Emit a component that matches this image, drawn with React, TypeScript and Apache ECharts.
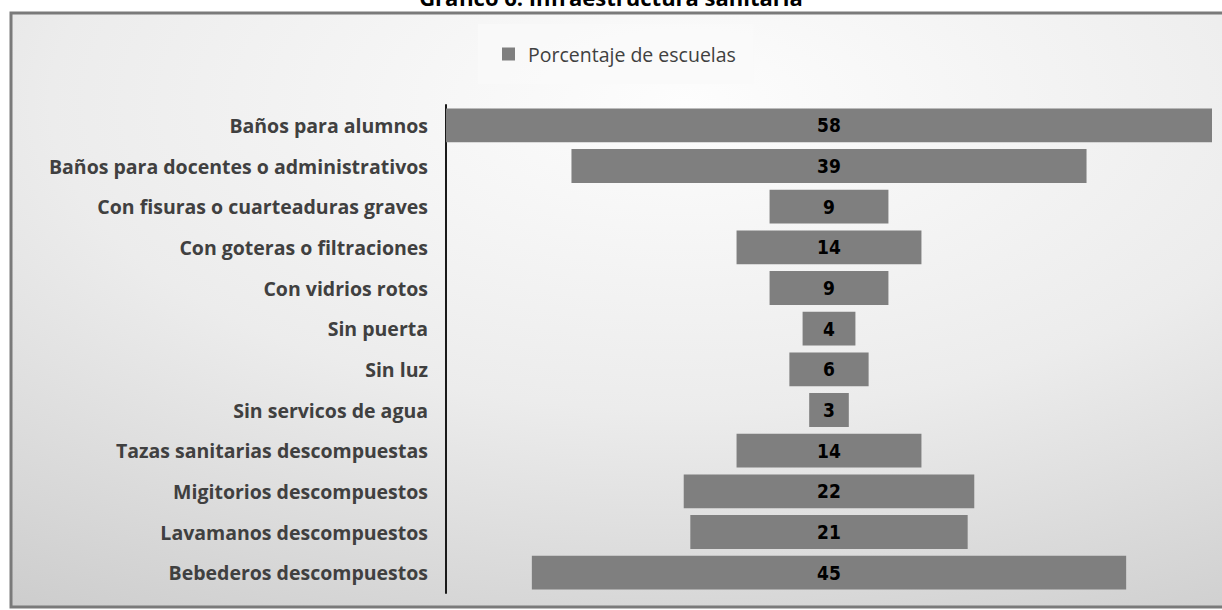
import React, { useEffect, useRef } from "react";
import * as echarts from "echarts";

const categories = [
  "Baños para alumnos",
  "Baños para docentes o administrativos",
  "Con fisuras o cuarteaduras graves",
  "Con goteras o filtraciones",
  "Con vidrios rotos",
  "Sin puerta",
  "Sin luz",
  "Sin servicos de agua",
  "Tazas sanitarias descompuestas",
  "Migitorios descompuestos",
  "Lavamanos descompuestos",
  "Bebederos descompuestos",
];
const values = [58, 39, 9, 14, 9, 4, 6, 3, 14, 22, 21, 45];
const seriesName = "Porcentaje de escuelas";
const titleText = "Gráfico 6. Infraestructura sanitaria";

export default function App() {
  const ref = useRef<HTMLDivElement>(null);
  useEffect(() => {
    if (!ref.current) return;
    const chart = echarts.init(ref.current, null, { renderer: "svg" });
    const maxV = Math.max(...values);
    const offsets = values.map((v) => (maxV - v) / 2);
    chart.setOption({
      animation: false,
      backgroundColor: "#ffffff",
      graphic: [
        {
          type: "rect",
          z: -10,
          shape: { x: 11, y: 13, width: 1225, height: 594 },
          style: {
            fill: {
              type: "radial",
              x: 0.55,
              y: 0.15,
              r: 1.15,
              colorStops: [
                { offset: 0, color: "#fdfdfd" },
                { offset: 0.45, color: "#ececec" },
                { offset: 1, color: "#c4c4c4" },
              ],
            },
            stroke: "#7a7a7a",
            lineWidth: 3,
          },
        },
        {
          type: "text",
          left: "center",
          top: -14,
          style: {
            text: titleText,
            font: "bold 22px 'Open Sans', sans-serif",
            fill: "#000000",
          },
        },
      ],
      legend: {
        data: [seriesName],
        left: 478,
        top: 24,
        padding: [20, 18, 20, 24],
        backgroundColor: "rgba(250,250,250,0.75)",
        itemWidth: 13,
        itemHeight: 13,
        icon: "rect",
        textStyle: {
          fontFamily: "'Open Sans', sans-serif",
          fontSize: 19.5,
          color: "#404040",
          padding: [0, 0, 0, 8],
        },
      },
      grid: { left: 446, right: 10, top: 105, bottom: 17 },
      xAxis: {
        type: "value",
        min: 0,
        max: maxV,
        show: false,
      },
      yAxis: {
        type: "category",
        data: categories,
        inverse: true,
        axisLine: { show: true, lineStyle: { color: "#1a1a1a", width: 2 } },
        axisTick: { show: false },
        axisLabel: {
          margin: 18,
          fontFamily: "'Open Sans', sans-serif",
          fontWeight: "bold",
          fontSize: 19.5,
          color: "#404040",
        },
      },
      series: [
        {
          name: "offset",
          type: "bar",
          stack: "s",
          data: offsets,
          itemStyle: { color: "transparent" },
          silent: true,
          barCategoryGap: "17%",
        },
        {
          name: seriesName,
          type: "bar",
          stack: "s",
          data: values,
          barCategoryGap: "17%",
          itemStyle: { color: "#7f7f7f" },
          label: {
            show: true,
            position: "inside",
            fontFamily: "'Liberation Sans Narrow', 'DejaVu Sans Condensed', sans-serif",
            fontWeight: "bold",
            fontSize: 19,
            color: "#000000",
          },
        },
      ],
    });
    return () => chart.dispose();
  }, []);
  return (
    <div
      ref={ref}
      style={{ position: "fixed", left: 0, top: 0, width: 1222, height: 610 }}
    />
  );
}
